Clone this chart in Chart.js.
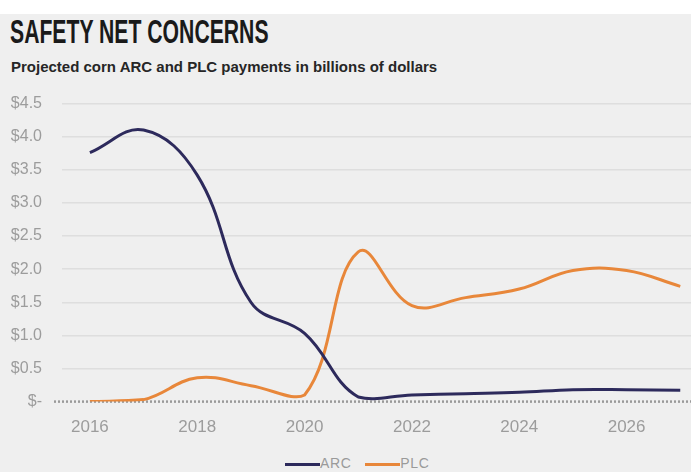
<!DOCTYPE html>
<html>
<head>
<meta charset="utf-8">
<script src="https://cdn.jsdelivr.net/npm/chart.js@4"></script>
<style>
  html, body { margin: 0; padding: 0; }
  body { width: 691px; height: 472px; background: #efefef; position: relative; overflow: hidden; font-family: "Liberation Sans", Arial, sans-serif; }
  #topband { position: absolute; left: 0; top: 0; width: 691px; height: 14px; background: #ffffff; }
  #title { position: absolute; left: 10px; top: 12px; font-weight: bold; font-size: 34px; color: #1a1a1a; transform-origin: 0 0; transform: scaleX(0.623); white-space: nowrap; }
  #subtitle { position: absolute; left: 11px; top: 58px; font-size: 15px; font-weight: bold; color: #262626; letter-spacing: 0px; white-space: nowrap; }
  #wrap { position: absolute; left: 0; top: 74px; width: 691px; height: 372px; }
  #legende { position: absolute; left: 285px; top: 455px; font-size: 14px; color: #9a9a9a; white-space: nowrap; letter-spacing: 0.6px; }
  #legende span.item { display: inline-block; margin-right: 14px; }
  #legende span.trait { display: inline-block; width: 35px; height: 3px; vertical-align: middle; }
</style>
</head>
<body>
<div id="topband"></div>
<div id="title">SAFETY NET CONCERNS</div>
<div id="subtitle">Projected corn ARC and PLC payments in billions of dollars</div>
<div id="wrap"><canvas id="graph_corn"></canvas></div>
<div id="legende"></div>
<script>
/*------------------------------*/
/*     DONNEES                  */
/*------------------------------*/
var annees = [2016, 2017, 2018, 2019, 2020, 2021, 2022, 2023, 2024, 2025, 2026, 2027]
var arc = [3.76, 4.1, 3.42, 1.5, 1.03, 0.07, 0.1, 0.12, 0.14, 0.18, 0.18, 0.17]
var plc = [0, 0.03, 0.36, 0.24, 0.1, 2.26, 1.45, 1.57, 1.7, 1.98, 1.98, 1.74]
var yTicks = ['$-', '$0.5', '$1.0', '$1.5', '$2.0', '$2.5', '$3.0', '$3.5', '$4.0', '$4.5']
var xTicks = [2016, 2018, 2020, 2022, 2024, 2026]

/*------------------------------*/
/*     GRAPHIQUE                */
/*------------------------------*/
var ctx_corn = document.getElementById('graph_corn').getContext('2d')

var zeroLine = {
  id: 'zeroLine',
  beforeDatasetsDraw: function (chart) {
    var c = chart.ctx
    var y = chart.scales.y.getPixelForValue(0)
    c.save()
    c.strokeStyle = '#9a9a9a'
    c.lineWidth = 2.5
    c.setLineDash([2, 2])
    c.beginPath()
    c.moveTo(chart.chartArea.left - 8, y)
    c.lineTo(chart.chartArea.right, y)
    c.stroke()
    c.restore()
  }
}

var data_corn = {
  datasets: [{
    label: 'ARC',
    data: annees.map(function (a, i) { return { x: a, y: arc[i] } }),
    borderColor: '#2d2a5c',
    backgroundColor: '#2d2a5c',
    borderWidth: 3,
    tension: 0.4,
    pointRadius: 0,
    fill: false
  }, {
    label: 'PLC',
    data: annees.map(function (a, i) { return { x: a, y: plc[i] } }),
    borderColor: '#e8873a',
    backgroundColor: '#e8873a',
    borderWidth: 3,
    tension: 0.4,
    pointRadius: 0,
    fill: false
  }]
}

var config_corn = {
  type: 'line',
  data: data_corn,
  plugins: [zeroLine],
  options: {
    responsive: true,
    maintainAspectRatio: false,
    animation: false,
    layout: { padding: { top: 10, right: 0, left: 0, bottom: 0 } },
    scales: {
      x: {
        type: 'linear',
        min: 2015.48,
        max: 2027.2,
        border: { display: false },
        grid: { display: false },
        afterBuildTicks: function (axis) {
          axis.ticks = xTicks.map(function (v) { return { value: v } })
        },
        ticks: {
          color: '#9c9c9c',
          font: { size: 17, family: 'Liberation Sans' },
          padding: 8,
          maxRotation: 0,
          callback: function (v) { return String(v) }
        }
      },
      y: {
        min: 0,
        max: 4.5,
        border: { display: false },
        afterFit: function (axis) { axis.width = 62 },
        grid: {
          color: function (c) { return c.tick && c.tick.value === 0 ? 'rgba(0,0,0,0)' : '#dedede' },
          lineWidth: 1.5,
          drawTicks: false
        },
        ticks: {
          stepSize: 0.5,
          color: '#9c9c9c',
          font: { size: 16, family: 'Liberation Sans' },
          padding: 20,
          callback: function (v, i) { return yTicks[i] }
        }
      }
    },
    plugins: {
      legend: { display: false },
      tooltip: { enabled: false }
    }
  }
}
var graph_corn = new Chart(ctx_corn, config_corn)

// legende en HTML
var leg = document.getElementById('legende')
data_corn.datasets.forEach(function (ds) {
  var it = document.createElement('span')
  it.className = 'item'
  it.innerHTML = '<span class="trait" style="background:' + ds.borderColor + '"></span>' + ds.label
  leg.appendChild(it)
})
</script>
</body>
</html>
